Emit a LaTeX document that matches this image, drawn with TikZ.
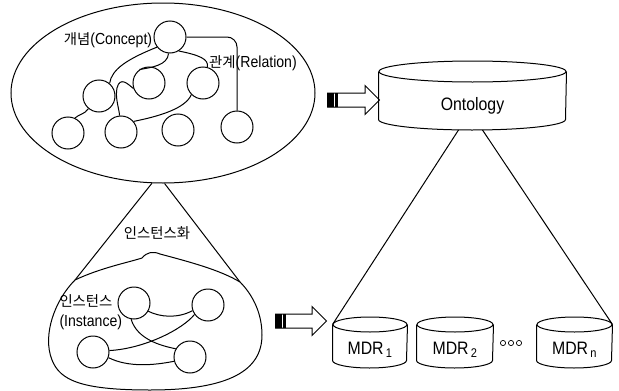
\documentclass[tikz,border=0pt]{standalone}
\usepackage{fontspec}
\setmainfont{Liberation Sans}[FakeStretch=0.88]
\newfontfamily\kr{Noto Sans CJK KR}[Scale=0.9]
\usetikzlibrary{shapes.geometric}
\usetikzlibrary{shapes.arrows}

\begin{document}
\begin{tikzpicture}[x=1pt,y=-1pt,line width=1pt,
  cnode/.style={circle,draw,minimum size=32pt,inner sep=0pt},
  lbl/.style={font=\fontsize{16}{20}\selectfont,inner sep=0pt},
  dbnode/.style={inner sep=0pt,font=\fontsize{18}{20}\selectfont},
  blockarr/.style={single arrow,draw,inner sep=0pt,text height=13pt,text depth=0pt,
    minimum height=#1,single arrow head extend=7.5pt,
    path picture={\fill[black] (path picture bounding box.south west) rectangle ([xshift=10pt]path picture bounding box.north west);
      \draw[white,line width=1pt] ([xshift=6.5pt]path picture bounding box.south west) -- ([xshift=6.5pt]path picture bounding box.north west);}}]
\useasboundingbox (0,0) rectangle (619,391);

% concept graph
\node[draw,ellipse,minimum width=304pt,minimum height=180pt] (cpt) at (163,93) {};
\node[cnode] (ctop) at (170,37) {};
\node[cnode] (cmidl) at (149,83) {};
\node[cnode] (cmidr) at (203,83) {};
\node[cnode] (cleft) at (99,96) {};
\node[cnode] (cb1) at (68,133) {};
\node[cnode] (cb2) at (121,132) {};
\node[cnode] (cb3) at (178,130) {};
\node[cnode] (cb4) at (237,127) {};
\draw (ctop.218) .. controls +(-30,12) and +(2,-14) .. (cleft.50);
\draw (cmidl.200) .. controls (128,84) and (120,76) .. (117,88) .. controls (115,98) and (119,108) .. (cb2.95);
\draw (ctop.265) .. controls +(-1,12) and +(12,-2) .. (cmidl.125);
\draw (ctop.-58) .. controls +(20,4) and +(2,-8) .. (cmidr.75);
\draw[rounded corners=10pt] (ctop.east) -| (cb4.north);
\draw (cb2.40) .. controls +(25,-5) and +(-6,14) .. (cmidr.225);
\draw (cleft.230) .. controls +(-4,6) and +(4,-4) .. (cb1.65);
\node[lbl] (lconcept) at (108,40) {{\kr 개념}(Concept)};
\node[lbl] (lrel) at (253,63) {{\kr 관계}(Relation)};

% instantiation
\coordinate (bl) at (75,280);
\coordinate (br) at (240,282);
\draw (cpt.263) -- (bl);
\draw (cpt.271) -- (br);
\node[lbl] (linst) at (157,233) {\kr 인스턴스화};
\draw (bl) .. controls (100,268) and (130,262) .. (142,258) .. controls (147,252) and (153,251) .. (160,254)
  .. controls (190,262) and (220,270) .. (br) .. controls (250,292) and (262,310) .. (262,335)
  .. controls (262,370) and (230,390) .. (150,390) .. controls (80,390) and (60,380) .. (52,360)
  .. controls (42,335) and (55,300) .. (bl);
\node[cnode] (ia) at (134,303) {};
\node[cnode] (ib) at (208,305) {};
\node[cnode] (ic) at (93,352) {};
\node[cnode] (id) at (190,357) {};
\draw (ia.-30) .. controls +(12,6) and +(-15,8) .. (ib.200);
\draw (ia.260) .. controls +(6,20) and +(-15,-3) .. (id.150);
\draw (ic.5) .. controls +(35,-2) and +(-12,15) .. (ib.215);
\draw (ic.-20) .. controls +(20,10) and +(-20,4) .. (id.195);
\node[lbl,align=left,anchor=west] (linsts) at (59,312) {{\kr 인스턴스}\\(Instance)};

% arrows
\node[blockarr=52pt] (arrtop) at (350,100) {};
\node[blockarr=51pt] (arrbot) at (297.5,321) {};

% repositories
\node[dbnode,minimum width=187pt,minimum height=47pt] (onto) at (472.5,106) {Ontology};
\node[dbnode,minimum width=74pt,minimum height=35pt] (mdr1) at (370,350) {MDR\textsubscript{\,1}};
\node[dbnode,minimum width=76pt,minimum height=35pt] (mdr2) at (455,350) {MDR\textsubscript{\,2}};
\node[dbnode,minimum width=75pt,minimum height=35pt] (mdrn) at (574.5,350) {MDR\textsubscript{\,n}};
\foreach \n/\r/\w in {onto/10.5/93.5,mdr1/7.5/37,mdr2/7.5/38,mdrn/7.5/37.5}{
  \draw ([yshift=\r pt]\n.north west) -- ([yshift=\r pt]\n.south west) arc[start angle=180,end angle=0,x radius=\w,y radius=\r] -- ([yshift=\r pt]\n.north east);
  \draw ([yshift=\r pt]\n.north) ellipse[x radius=\w,y radius=\r];
}
\foreach \x in {503,511,519}
  \draw[line width=0.7pt] (\x,343) circle[radius=2.6];
\draw ([xshift=-14pt]onto.south) -- ([yshift=7.5pt]mdr1.north west);
\draw ([xshift=10pt]onto.south) -- ([yshift=7.5pt]mdrn.north east);

\end{tikzpicture}
\end{document}
